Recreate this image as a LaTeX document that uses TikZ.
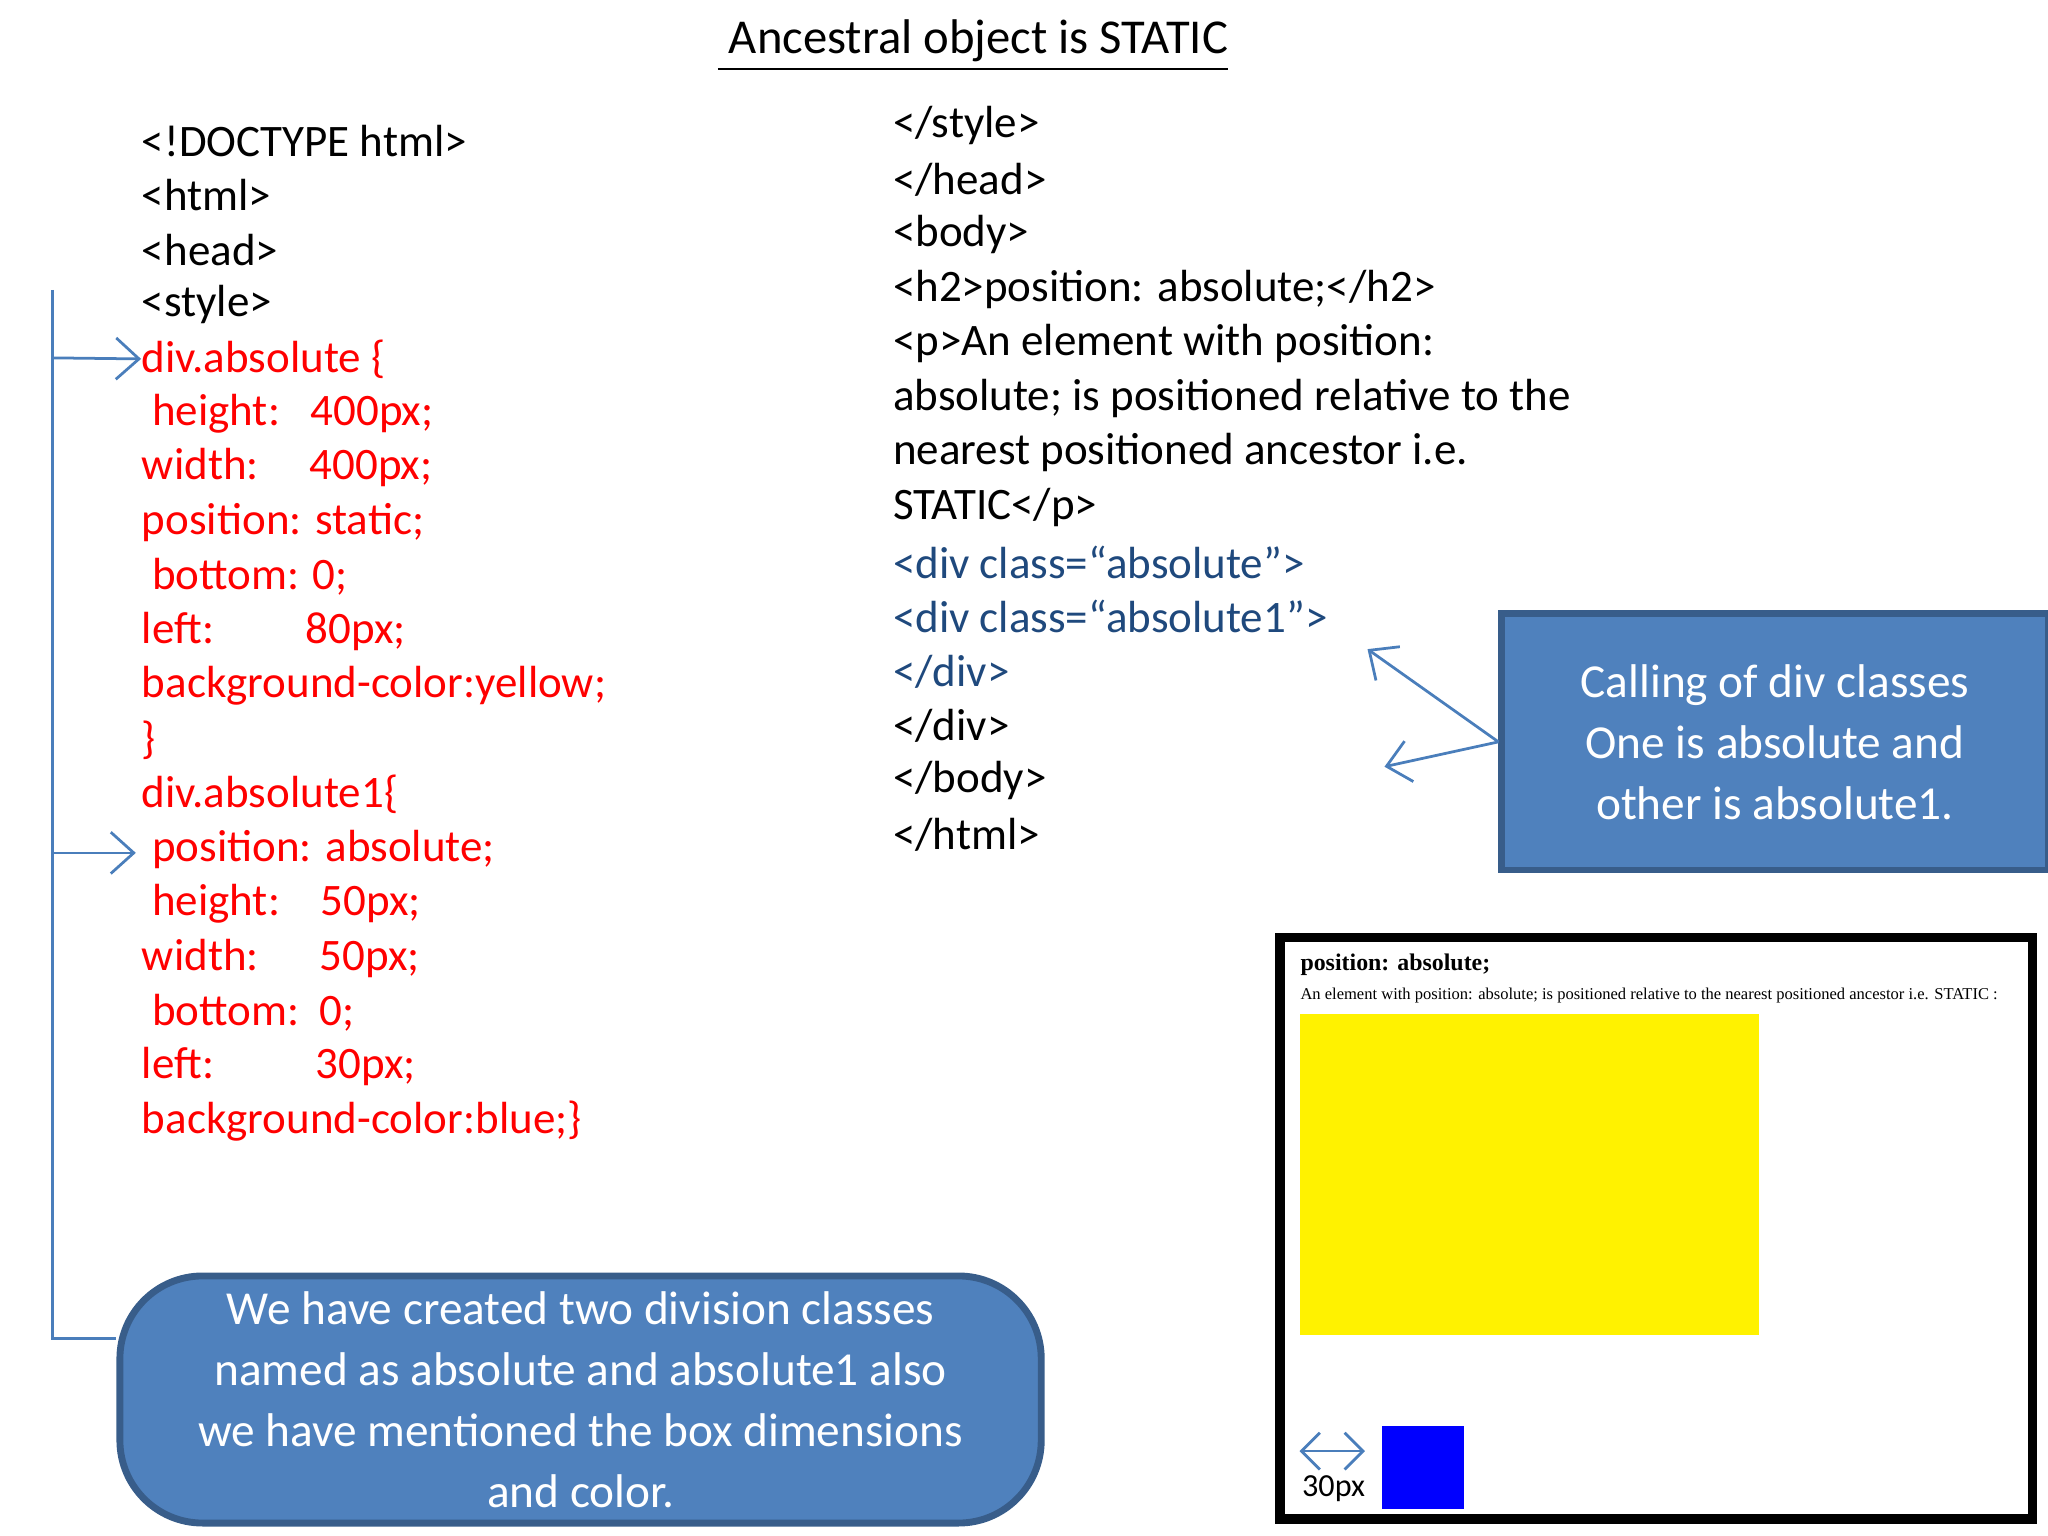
\documentclass[tikz,border=0pt]{standalone}
\usepackage{fontspec}
\setmainfont{Carlito}
\newfontfamily\serifb{Liberation Serif}
\usetikzlibrary{arrows.meta}
\definecolor{cblue}{HTML}{4F81BD}
\definecolor{cdark}{HTML}{385D8A}
\definecolor{codeblue}{HTML}{1F497D}
\definecolor{arr}{HTML}{4A7EBB}
\begin{document}
\begin{tikzpicture}[x=0.01cm,y=-0.01cm,
 code/.style={anchor=west,inner sep=0pt,font=\fontsize{9.8pt}{11pt}\selectfont},
 conn/.style={arr,line width=0.6pt,-{Straight Barb[length=5pt,width=9pt]}},
 bluebox/.style={draw=cdark,line width=1.5pt,fill=cblue,text=white,align=center,font=\fontsize{10.3pt}{13.3pt}\selectfont}]
\useasboundingbox (0,0) rectangle (1568,1176);
\node[inner sep=0pt,font=\fontsize{10.6pt}{12pt}\selectfont] (title) at (745,35) {\underline{\ Ancestral object is STATIC}};
% left code
\foreach \t/\c [count=\i from 0] in {{<!DOCTYPE html>}/black,{<html>}/black,{<head>}/black,{<style>}/black,
 {div.absolute \{}/red,{\ height:\ \ \ 400px;}/red,{width:\ \ \ \ \ 400px;}/red,{position: static;}/red,
 {\ bottom: 0;}/red,{left:\ \ \ \ \ \ \ \ \ 80px;}/red,{background-color:yellow;}/red,{\}}/red,
 {div.absolute1\{}/red,{\ position: absolute;}/red,{\ height:\ \ \ \ 50px;}/red,{width:\ \ \ \ \ \ 50px;}/red,
 {\ bottom:\ \ 0;}/red,{left:\ \ \ \ \ \ \ \ \ \ 30px;}/red,{background-color:blue;\}}/red}
 \node[code,text=\c] (L\i) at (108,108+\i*41.7) {\t};
% right code
\foreach \t/\c [count=\i from 0] in {{</style>}/black,{</head>}/black,{<body>}/black,{<h2>position: absolute;</h2>}/black,
 {<p>An element with position:}/black,{absolute; is positioned relative to the}/black,{nearest positioned ancestor i.e.}/black,
 {STATIC</p>}/black,{<div class=“absolute\char34>}/codeblue,{<div class=“absolute1\char34>}/codeblue,{</div>}/codeblue,
 {</div>}/black,{</body>}/black,{</html>}/black}
 \node[code,text=\c] (R\i) at (683,96+\i*41.8) {\t};
% bottom box
\node[bluebox,rounded corners=18pt,minimum width=7.05cm,minimum height=1.83cm] (bx) at (444.5,1071.5)
 {We have created two division classes\\named as absolute and absolute1 also\\we have mentioned the box dimensions\\and color.};
\coordinate (top) at (40,222);
\coordinate (a1) at (40,274);
\coordinate (a2) at (40,653);
\draw[arr,line width=0.6pt] (top) -- (40,1025) -- (bx.west |- 0,1025);
\draw[conn] (a1) -- (L4.west);
\draw[conn] (a2) -- (104,653);
% right callout
\node[bluebox,minimum width=4.18cm,minimum height=1.96cm] (cb) at (1359,568)
 {Calling of div classes\\One is absolute and\\other is absolute1.};
\coordinate (t1) at (1047,497);
\coordinate (t2) at (1060,587);
\draw[conn] (cb.west) -- (t1);
\draw[conn] (cb.west) -- (t2);
% screenshot
\draw[line width=2pt] (980,718) rectangle (1556,1163);
\node[anchor=west,inner sep=0pt,font=\serifb\bfseries\fontsize{5.2pt}{6pt}\selectfont] (h2) at (995,739) {position: absolute;};
\node[anchor=west,inner sep=0pt,font=\serifb\fontsize{3.6pt}{4pt}\selectfont] (ptxt) at (995,762) {An element with position: absolute; is positioned relative to the nearest positioned ancestor i.e. STATIC :};
\fill[yellow] (995,776) rectangle (1347,1022);
\fill[blue] (1058,1092) rectangle (1121,1155);
\coordinate (d1) at (995,1111);
\coordinate (d2) at (1045,1111);
\draw[arr,line width=0.6pt,{Straight Barb[length=4pt,width=8pt]}-{Straight Barb[length=4pt,width=8pt]}] (d1) -- (d2);
\node[inner sep=0pt,font=\fontsize{7pt}{8pt}\selectfont] (px) at (1021,1140) {30px};
\end{tikzpicture}
\end{document}
